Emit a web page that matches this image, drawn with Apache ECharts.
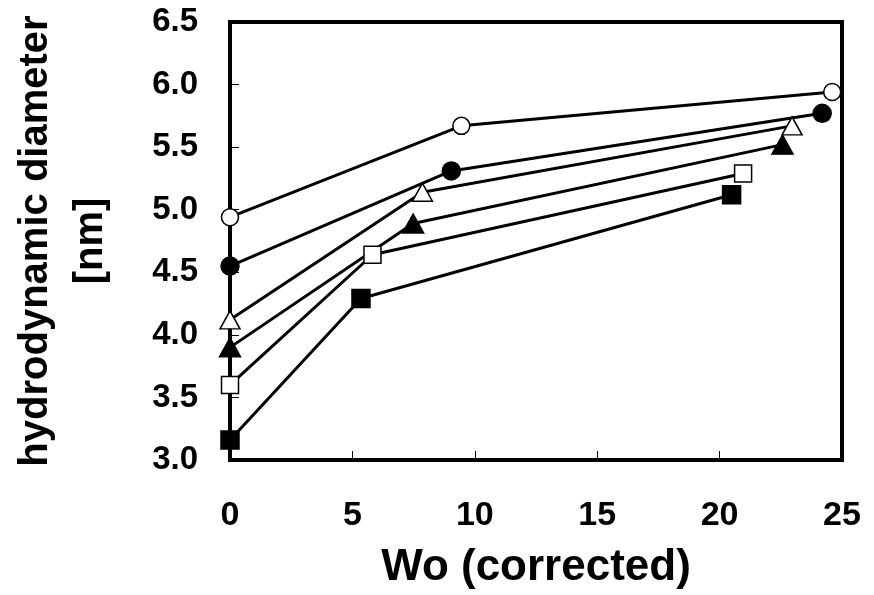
<!DOCTYPE html>
<html>
<head>
<meta charset="utf-8">
<style>
  html, body { margin: 0; padding: 0; background: #fff; }
  #chart { width: 874px; height: 595px; }
</style>
<script src="https://cdn.jsdelivr.net/npm/echarts@6/dist/echarts.min.js"></script>
</head>
<body>
<div id="chart"></div>
<script>
// Wo (corrected) vs hydrodynamic diameter, six sample series
const openCircle     = [[0, 4.94], [9.45, 5.67], [24.6, 5.94]];
const filledCircle   = [[0, 4.55], [9.04, 5.31], [24.19, 5.77]];
const openTriangle   = [[0, 4.12], [7.86, 5.14], [22.96, 5.67]];
const filledTriangle = [[0, 3.90], [7.48, 4.89], [22.57, 5.52]];
const openSquare     = [[0, 3.60], [5.82, 4.64], [20.96, 5.29]];
const filledSquare   = [[0, 3.16], [5.35, 4.29], [20.49, 5.12]];

const xTicks = { min: 0, max: 25, interval: 5 };
const yTicks = { min: 3.0, max: 6.5, interval: 0.5 };

const FONT = '"Liberation Sans", Arial, Helvetica, sans-serif';

function series(data, symbol, size, filled) {
  return {
    type: 'line',
    data: data,
    symbol: symbol,
    symbolSize: size,
    showAllSymbol: true,
    lineStyle: { color: '#000', width: 3 },
    itemStyle: {
      color: filled ? '#000' : '#fff',
      borderColor: '#000',
      borderWidth: 1.5
    },
    emphasis: { disabled: true },
    animation: false
  };
}

const chart = echarts.init(document.getElementById('chart'));
chart.setOption({
  backgroundColor: '#fff',
  animation: false,
  grid: {
    left: 228, right: 32, top: 22, bottom: 134,
    show: true, borderColor: '#000', borderWidth: 4, backgroundColor: 'transparent'
  },
  xAxis: {
    type: 'value',
    min: xTicks.min, max: xTicks.max, interval: xTicks.interval,
    name: 'Wo (corrected)',
    nameLocation: 'middle',
    nameGap: 86,
    nameTextStyle: { fontFamily: FONT, fontWeight: 'bold', fontSize: 44, color: '#000' },
    axisLine: { show: true, lineStyle: { color: '#000', width: 4 } },
    axisTick: { show: true, inside: true, length: 9, lineStyle: { color: '#000', width: 1 } },
    axisLabel: { margin: 39, fontFamily: FONT, fontWeight: 'bold', fontSize: 34, color: '#000' },
    splitLine: { show: false }
  },
  yAxis: {
    type: 'value',
    min: yTicks.min, max: yTicks.max, interval: yTicks.interval,
    name: 'hydrodynamic diameter\n[nm]',
    nameLocation: 'middle',
    nameRotate: 90,
    nameGap: 112,
    nameTextStyle: { fontFamily: FONT, fontWeight: 'bold', fontSize: 40, lineHeight: 55, color: '#000', align: 'center' },
    axisLine: { show: true, lineStyle: { color: '#000', width: 4 } },
    axisTick: { show: true, inside: true, length: 9, lineStyle: { color: '#000', width: 1 } },
    axisLabel: {
      margin: 32, fontFamily: FONT, fontWeight: 'bold', fontSize: 33, color: '#000',
      formatter: v => v.toFixed(1)
    },
    splitLine: { show: false }
  },
  series: [
    series(filledSquare, 'rect', 18, true),
    series(openSquare, 'rect', 17, false),
    series(filledTriangle, 'triangle', [21, 19], true),
    series(openTriangle, 'triangle', [20, 18], false),
    series(filledCircle, 'circle', 18, true),
    series(openCircle, 'circle', 17, false)
  ]
});
</script>
</body>
</html>
